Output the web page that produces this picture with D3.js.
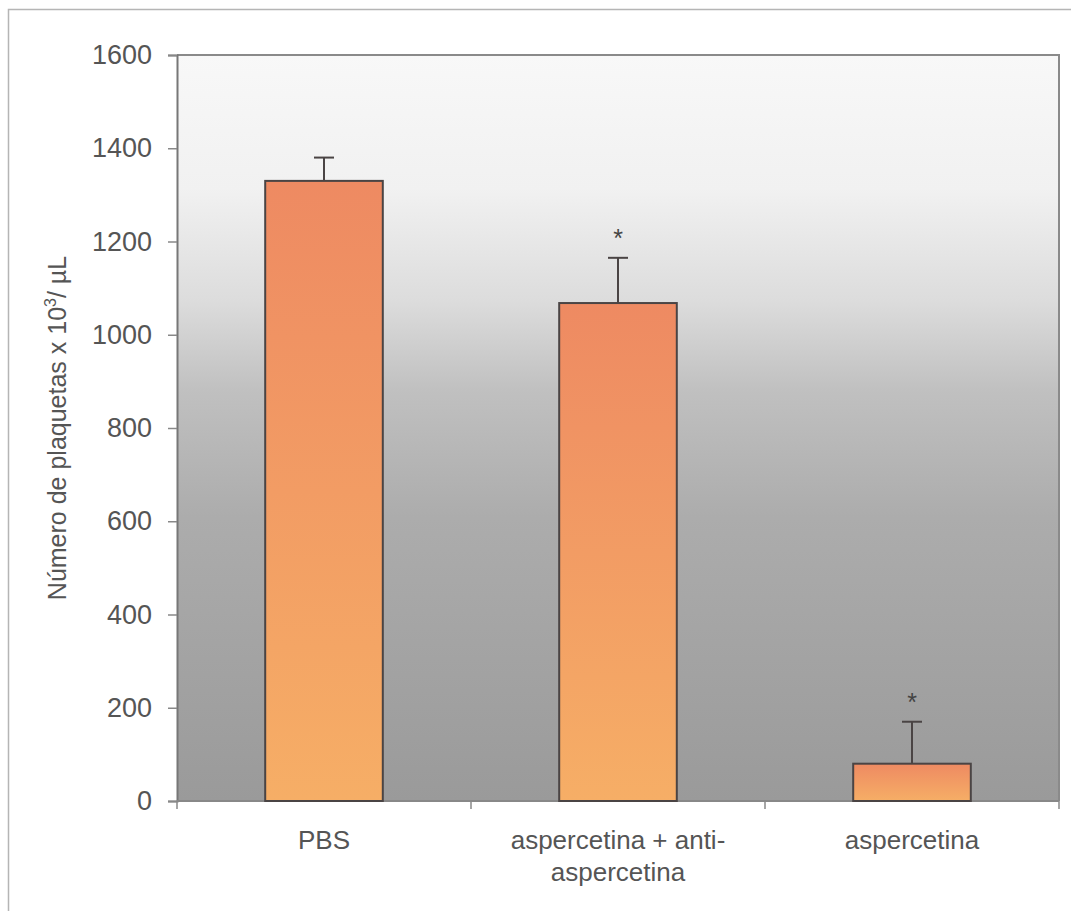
<!DOCTYPE html>
<html>
<head>
<meta charset="utf-8">
<script src="https://cdn.jsdelivr.net/npm/d3@7"></script>
<style>
  body { margin: 0; background: #ffffff; }
  text { font-family: "Liberation Sans", Arial, sans-serif; fill: #555555; }
</style>
</head>
<body>
<div id="chart"></div>
<script>
// data
var categories = ["PBS", "aspercetina + anti-\naspercetina", "aspercetina"];
var plateletValues = [1330, 1068, 80];
var errorValues = [50, 97, 90];
var significant = [false, true, true];
var yTicks = [0, 200, 400, 600, 800, 1000, 1200, 1400, 1600];

var svgWidth = 1071;
var svgHeight = 911;

// plot area margins
var chartMargin = { top: 55, bottom: 110, right: 12, left: 177 };
var chartWidth = svgWidth - chartMargin.left - chartMargin.right;
var chartHeight = svgHeight - chartMargin.top - chartMargin.bottom;

var svg = d3.select("#chart")
    .append("svg")
    .attr("width", svgWidth)
    .attr("height", svgHeight);

var defs = svg.append("defs");

// gray background gradient of the plot area
var bgGrad = defs.append("linearGradient")
    .attr("id", "bgGrad")
    .attr("x1", 0).attr("y1", 0).attr("x2", 0).attr("y2", 1);
[["0%", "#f8f8f8"], ["18%", "#f1f1f1"], ["33%", "#dcdcdc"], ["45%", "#c0c0c0"], ["62%", "#acacac"], ["100%", "#9a9a9a"]]
    .forEach(function(s) {
        bgGrad.append("stop").attr("offset", s[0]).attr("stop-color", s[1]);
    });

// orange gradient of each bar
var barGrad = defs.append("linearGradient")
    .attr("id", "barGrad")
    .attr("x1", 0).attr("y1", 0).attr("x2", 0).attr("y2", 1);
barGrad.append("stop").attr("offset", "0%").attr("stop-color", "#ee8a62");
barGrad.append("stop").attr("offset", "100%").attr("stop-color", "#f6ae66");

// outer frame
svg.append("rect")
    .attr("x", 8.5)
    .attr("y", 9.5)
    .attr("width", svgWidth)
    .attr("height", svgHeight)
    .attr("fill", "none")
    .attr("stroke", "#b5b5b5")
    .attr("stroke-width", 1.5);

var chartGroup = svg.append("g")
    .attr("transform", `translate(${chartMargin.left}, ${chartMargin.top})`);

// scales
var xBandScale = d3.scaleBand()
    .domain(categories)
    .range([0, chartWidth])
    .paddingInner(0.6)
    .paddingOuter(0.3);

var yLinearScale = d3.scaleLinear()
    .domain([0, 1600])
    .range([chartHeight, 0]);

// plot background
chartGroup.append("rect")
    .attr("width", chartWidth)
    .attr("height", chartHeight)
    .attr("fill", "url(#bgGrad)");

// top and right frame of the plot
chartGroup.append("path")
    .attr("d", `M0,0H${chartWidth}V${chartHeight}`)
    .attr("fill", "none")
    .attr("stroke", "#8a8a8a")
    .attr("stroke-width", 2);

// left axis
var leftAxis = d3.axisLeft(yLinearScale)
    .tickValues(yTicks)
    .tickFormat(d3.format("d"))
    .tickSize(9)
    .tickPadding(16);

var yAxisGroup = chartGroup.append("g").call(leftAxis);
yAxisGroup.select(".domain").attr("stroke", "#777777").attr("stroke-width", 2);
yAxisGroup.selectAll(".tick line").attr("stroke", "#888888").attr("stroke-width", 1.5);
yAxisGroup.selectAll(".tick text")
    .attr("font-size", "27px")
    .attr("font-family", "Liberation Sans, Arial, sans-serif")
    .attr("fill", "#555555");

// bottom axis line with ticks between categories
chartGroup.append("line")
    .attr("x1", 0).attr("x2", chartWidth)
    .attr("y1", chartHeight).attr("y2", chartHeight)
    .attr("stroke", "#888888")
    .attr("stroke-width", 2);

var step = xBandScale.step();
var boundaries = d3.range(categories.length + 1).map(i => i * step);
chartGroup.selectAll(".xtick")
    .data(boundaries)
    .enter()
    .append("line")
    .attr("class", "xtick")
    .attr("x1", d => d)
    .attr("x2", d => d)
    .attr("y1", chartHeight)
    .attr("y2", chartHeight + 8)
    .attr("stroke", "#888888")
    .attr("stroke-width", 1.5);

// bars
chartGroup.selectAll(".bar")
    .data(categories)
    .enter()
    .append("rect")
    .attr("class", "bar")
    .attr("x", d => xBandScale(d))
    .attr("y", (d, i) => yLinearScale(plateletValues[i]))
    .attr("width", xBandScale.bandwidth())
    .attr("height", (d, i) => chartHeight - yLinearScale(plateletValues[i]))
    .attr("fill", "url(#barGrad)")
    .attr("stroke", "#4a4444")
    .attr("stroke-width", 2);

// error bars (upper half only)
var errGroup = chartGroup.selectAll(".err")
    .data(categories)
    .enter()
    .append("g")
    .attr("class", "err");

errGroup.append("line")
    .attr("x1", d => xBandScale(d) + xBandScale.bandwidth() / 2)
    .attr("x2", d => xBandScale(d) + xBandScale.bandwidth() / 2)
    .attr("y1", (d, i) => yLinearScale(plateletValues[i]))
    .attr("y2", (d, i) => yLinearScale(plateletValues[i] + errorValues[i]))
    .attr("stroke", "#4a4444")
    .attr("stroke-width", 2);

errGroup.append("line")
    .attr("x1", d => xBandScale(d) + xBandScale.bandwidth() / 2 - 10)
    .attr("x2", d => xBandScale(d) + xBandScale.bandwidth() / 2 + 10)
    .attr("y1", (d, i) => yLinearScale(plateletValues[i] + errorValues[i]))
    .attr("y2", (d, i) => yLinearScale(plateletValues[i] + errorValues[i]))
    .attr("stroke", "#4a4444")
    .attr("stroke-width", 2);

// significance asterisks
chartGroup.selectAll(".star")
    .data(categories.filter((d, i) => significant[i]))
    .enter()
    .append("text")
    .attr("class", "star")
    .attr("x", d => xBandScale(d) + xBandScale.bandwidth() / 2)
    .attr("y", d => {
        var i = categories.indexOf(d);
        return yLinearScale(plateletValues[i] + errorValues[i]) - 11;
    })
    .attr("text-anchor", "middle")
    .attr("font-size", "25px")
    .style("fill", "#444444")
    .text("*");

// category labels
chartGroup.selectAll(".catLabel")
    .data(categories)
    .enter()
    .append("text")
    .attr("class", "catLabel")
    .attr("x", d => xBandScale(d) + xBandScale.bandwidth() / 2)
    .attr("y", chartHeight + 48)
    .attr("text-anchor", "middle")
    .attr("font-size", "26px")
    .each(function(d) {
        var lines = d.split("\n");
        var t = d3.select(this);
        lines.forEach(function(line, k) {
            t.append("tspan")
                .attr("x", xBandScale(d) + xBandScale.bandwidth() / 2)
                .attr("dy", k === 0 ? 0 : 32)
                .text(line);
        });
    });

// y axis title
var yTitle = svg.append("text")
    .attr("transform", `translate(66, ${chartMargin.top + chartHeight / 2}) rotate(-90)`)
    .attr("text-anchor", "middle")
    .attr("font-size", "25px");
yTitle.append("tspan").text("Número de plaquetas x 10");
yTitle.append("tspan").attr("dy", -10).attr("font-size", "16px").text("3");
yTitle.append("tspan").attr("dy", 10).text("/ µL");
</script>
</body>
</html>
